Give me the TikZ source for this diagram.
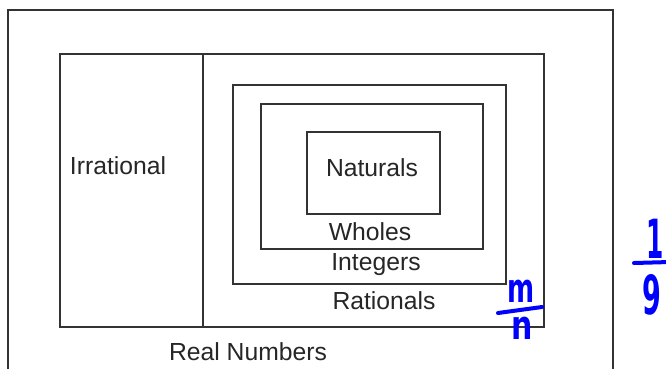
\documentclass[tikz,border=0pt]{standalone}
\usepackage{fontspec}
\setmainfont{Liberation Sans}
\newfontfamily\inkfont{DejaVu Sans}
\tikzset{
  box/.style={draw=black!80, line width=1.6pt},
  lbl/.style={inner sep=0pt, font=\fontsize{24.7}{28}\selectfont, text=black!85},
  ink/.style={inner sep=0pt, text=blue, font=\inkfont\bfseries\fontsize{40}{42}\selectfont},
  bigink/.style={inner sep=0pt, text=blue, font=\inkfont\bfseries\fontsize{54}{56}\selectfont}
}
\begin{document}
\begin{tikzpicture}[x=1pt,y=-1pt]
  \useasboundingbox[fill=white] (0,0) rectangle (666,368);
  \draw[box] (8,380) -- (8,10) -- (613,10) -- (613,380);
  \draw[box] (60,54) rectangle (544,327);
  \draw[box] (203,54) -- (203,327);
  \draw[box] (233,85) rectangle (506,284);
  \draw[box] (261,104) rectangle (483,249);
  \draw[box] (307,132) rectangle (440,214);
  \node[lbl] (irr) at (118,166) {Irrational};
  \node[lbl] (nat) at (372,168) {Naturals};
  \node[lbl] (who) at (370,232) {Wholes};
  \node[lbl] (int) at (376,265) {Integers};
  \node[lbl] (rat) at (384,301) {Rationals};
  \node[lbl] (real) at (248,352) {Real Numbers};
  \node[ink, xscale=0.65] (m) at (521,291) {m};
  \node[ink, xscale=0.75] (n) at (522,328) {n};
  \draw[blue, line width=4pt, line cap=round] (498,313) -- (542,307);
  \node[bigink, xscale=0.46, anchor=east] (one) at (664,239) {1};
  \node[bigink, xscale=0.5] (nine) at (652,295) {9};
  \draw[blue, line width=4pt, line cap=round] (634,263) -- (670,262);
\end{tikzpicture}
\end{document}
